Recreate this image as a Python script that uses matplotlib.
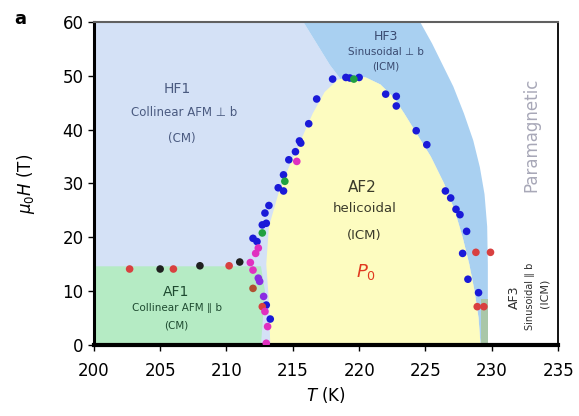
import matplotlib
matplotlib.use("Agg")
import matplotlib.pyplot as plt

# ---- region boundaries (T in K, H in T) ----
dome_T = [213.3, 213.2, 213.0, 213.2, 213.9, 214.7, 215.6, 216.5, 217.4, 218.4, 219.5, 220.5, 221.6, 222.6,
          223.4, 224.4, 225.4, 226.4, 227.2, 227.8, 228.3, 228.7, 229.0, 229.15]
dome_H = [0, 8, 15, 22, 28, 33, 38, 43, 47, 49.3, 49.9, 49.7, 48.4, 46.0,
          43.0, 39.0, 35.0, 30.0, 25.0, 20.0, 15.0, 10.0, 5.0, 0]

hf3_inner_T = [215.8, 216.8, 217.8, 218.6]
hf3_inner_H = [60, 56, 52, 49.4]
hf3_outer_T = [229.7, 229.7, 229.65, 229.45, 229.1, 228.6, 227.9, 227.1, 226.3, 225.5, 224.6]
hf3_outer_H = [0, 15, 22, 28, 33, 38, 43, 48, 52, 56, 60]

af1_T = [200, 212.6, 212.9, 212.6, 200]
af1_H = [0, 0, 10, 14.6, 14.6]

af3_T = [229.15, 229.7, 229.7, 229.15]
af3_H = [0, 0, 8.5, 8.5]

# ---- measured points ----
blue_T = [218.0, 219.0, 219.3, 220.0, 216.8, 222.0, 222.8, 222.8, 216.2, 224.3, 225.1,
          215.5, 215.6, 215.2, 214.7, 214.3, 213.9, 214.3, 213.2, 212.9, 213.0, 212.7, 212.0, 212.3,
          213.0, 213.3, 226.5, 226.9, 227.3, 227.6, 228.1, 227.8, 228.2, 229.0]
blue_H = [49.4, 49.7, 49.6, 49.7, 45.7, 46.6, 46.2, 44.4, 41.1, 39.8, 37.2,
          37.9, 37.5, 35.9, 34.4, 31.6, 29.2, 28.6, 25.9, 24.5, 22.6, 22.3, 19.8, 19.2,
          7.4, 4.8, 28.6, 27.3, 25.2, 24.2, 21.1, 17.0, 12.2, 9.7]
red_T = [202.7, 206.0, 210.2, 212.7, 228.8, 229.9, 228.9, 229.4]
red_H = [14.1, 14.1, 14.7, 7.1, 17.2, 17.2, 7.1, 7.1]
black_T = [205.0, 208.0, 211.0]
black_H = [14.1, 14.7, 15.4]
magenta_T = [215.3, 212.4, 212.2, 211.8, 212.0, 212.9, 213.1, 213.0]
magenta_H = [34.1, 18.0, 17.0, 15.3, 13.9, 6.2, 3.4, 0.3]
purple_T = [212.4, 212.5, 212.8]
purple_H = [12.4, 11.8, 9.0]
green_T = [214.4, 212.7, 219.6]
green_H = [30.4, 20.8, 49.4]
brown_T = [212.0]
brown_H = [10.5]

xticks = [200, 205, 210, 215, 220, 225, 230, 235]
yticks = [0, 10, 20, 30, 40, 50, 60]

fig = plt.figure(figsize=(5.79, 4.16), dpi=100)
ax = fig.add_axes([0.162, 0.171, 0.802, 0.776])
ax.set_xlim(200, 235)
ax.set_ylim(0, 60)

# backgrounds
ax.fill([200, 235, 235, 200], [0, 0, 60, 60], color="white", zorder=0)
ax.fill([200] + hf3_inner_T + dome_T[9:] + hf3_outer_T[:1] + [200],
        [60] + hf3_inner_H + dome_H[9:] + [0] + [0], color="#d4e1f6", lw=0, zorder=0.5)
ax.fill(hf3_inner_T + dome_T[10:] + hf3_outer_T, hf3_inner_H + dome_H[10:] + hf3_outer_H,
        color="#a9d0f1", lw=0, zorder=0.6)
ax.fill(dome_T, dome_H, color="#fdfcc0", lw=0, zorder=0.7)
ax.fill(af1_T, af1_H, color="#b5ebc4", lw=0, zorder=0.8)
ax.fill(af3_T, af3_H, color="#a9c7a8", lw=0, zorder=0.8)

ms = 30
for T, H, c in [(blue_T, blue_H, "#1a1ad8"), (red_T, red_H, "#d84040"), (black_T, black_H, "#202020"),
                (magenta_T, magenta_H, "#e030c0"), (purple_T, purple_H, "#8a2be2"),
                (green_T, green_H, "#20a040"), (brown_T, brown_H, "#b05030")]:
    ax.scatter(T, H, s=ms, color=c, edgecolors="none", zorder=3)

# labels
c_hf1 = "#4a5a80"
ax.text(206.3, 47.5, "HF1", ha="center", va="center", fontsize=10, color=c_hf1)
ax.text(206.8, 43.2, "Collinear AFM \u22a5 b", ha="center", va="center", fontsize=8.5, color=c_hf1)
ax.text(206.6, 38.3, "(CM)", ha="center", va="center", fontsize=8.5, color=c_hf1)
ax.text(222.0, 57.3, "HF3", ha="center", va="center", fontsize=9, color="#3a4a70")
ax.text(222.0, 54.5, "Sinusoidal \u22a5 b", ha="center", va="center", fontsize=7.5, color="#3a4a70")
ax.text(222.0, 51.8, "(ICM)", ha="center", va="center", fontsize=7.5, color="#3a4a70")
ax.text(233.0, 39.0, "Paramagnetic", ha="center", va="center", rotation=90, fontsize=12, color="#a8a8b8")
ax.text(220.2, 29.3, "AF2", ha="center", va="center", fontsize=11, color="#3a3a2a")
ax.text(220.4, 25.3, "helicoidal", ha="center", va="center", fontsize=9.5, color="#3a3a2a")
ax.text(220.4, 20.3, "(ICM)", ha="center", va="center", fontsize=9.5, color="#3a3a2a")
ax.text(220.5, 13.5, r"$P_0$", ha="center", va="center", fontsize=13, color="#e03a20")
c_af1 = "#1e4a30"
ax.text(206.2, 9.8, "AF1", ha="center", va="center", fontsize=10, color=c_af1)
ax.text(206.3, 6.8, "Collinear AFM \u2225 b", ha="center", va="center", fontsize=7.5, color=c_af1)
ax.text(206.2, 3.6, "(CM)", ha="center", va="center", fontsize=7.5, color=c_af1)
ax.text(231.7, 8.8, "AF3", ha="center", va="center", rotation=90, fontsize=9, color="#303030")
ax.text(232.9, 9.0, "Sinusoidal \u2225 b", ha="center", va="center", rotation=90, fontsize=7, color="#303030")
ax.text(234.0, 9.5, "(ICM)", ha="center", va="center", rotation=90, fontsize=8, color="#303030")

ax.set_xticks(xticks)
ax.set_yticks(yticks)
ax.tick_params(labelsize=12, direction="out", length=4, width=1, top=False, right=False)
ax.tick_params(axis="x", pad=8)
ax.set_xlabel(r"$T$ (K)", fontsize=12, labelpad=4)
ax.set_ylabel(r"$\mu_0H$ (T)", fontsize=12, labelpad=18)
ax.spines["left"].set_linewidth(2.2)
ax.spines["bottom"].set_linewidth(3)
ax.spines["top"].set_linewidth(1.5)
ax.spines["top"].set_color("#606060")
ax.spines["right"].set_linewidth(1.3)
fig.text(0.025, 0.955, "a", fontsize=13, fontweight="bold", ha="left", va="center")

fig.savefig("out.png", dpi=100)
